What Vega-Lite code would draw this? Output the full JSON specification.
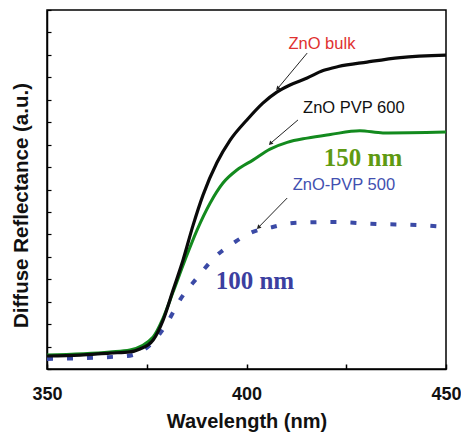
{
  "$schema": "https://vega.github.io/schema/vega-lite/v6.json",
  "autosize": "none",
  "width": 399,
  "height": 359,
  "padding": {"left": 47, "top": 10, "right": 15, "bottom": 65},
  "background": "white",
  "config": {
    "view": {"stroke": "black", "strokeWidth": 1.5},
    "axis": {"domainColor": "black", "tickColor": "black", "grid": false, "labelFont": "Liberation Sans", "titleFont": "Liberation Sans", "labelColor": "#111", "titleColor": "#111"}
  },
  "datasets": {
    "curves": [
      {"wl": 350.0, "r": 0.58, "s": "bulk"},
      {"wl": 358.3, "r": 0.62, "s": "bulk"},
      {"wl": 365.8, "r": 0.71, "s": "bulk"},
      {"wl": 370.8, "r": 0.76, "s": "bulk"},
      {"wl": 373.3, "r": 0.89, "s": "bulk"},
      {"wl": 376.6, "r": 1.29, "s": "bulk"},
      {"wl": 379.1, "r": 2.18, "s": "bulk"},
      {"wl": 381.6, "r": 3.52, "s": "bulk"},
      {"wl": 384.1, "r": 4.86, "s": "bulk"},
      {"wl": 386.6, "r": 6.4, "s": "bulk"},
      {"wl": 389.1, "r": 7.75, "s": "bulk"},
      {"wl": 392.6, "r": 9.2, "s": "bulk"},
      {"wl": 395.9, "r": 10.2, "s": "bulk"},
      {"wl": 400.1, "r": 11.1, "s": "bulk"},
      {"wl": 404.1, "r": 11.85, "s": "bulk"},
      {"wl": 407.6, "r": 12.34, "s": "bulk"},
      {"wl": 410.9, "r": 12.66, "s": "bulk"},
      {"wl": 415.2, "r": 12.97, "s": "bulk"},
      {"wl": 419.2, "r": 13.3, "s": "bulk"},
      {"wl": 423.0, "r": 13.48, "s": "bulk"},
      {"wl": 430.2, "r": 13.68, "s": "bulk"},
      {"wl": 438.5, "r": 13.88, "s": "bulk"},
      {"wl": 450.0, "r": 13.99, "s": "bulk"},
      {"wl": 350.0, "r": 0.62, "s": "pvp600"},
      {"wl": 365.8, "r": 0.76, "s": "pvp600"},
      {"wl": 370.8, "r": 0.85, "s": "pvp600"},
      {"wl": 376.6, "r": 1.43, "s": "pvp600"},
      {"wl": 379.1, "r": 2.27, "s": "pvp600"},
      {"wl": 381.6, "r": 3.43, "s": "pvp600"},
      {"wl": 384.6, "r": 4.86, "s": "pvp600"},
      {"wl": 387.6, "r": 6.19, "s": "pvp600"},
      {"wl": 390.9, "r": 7.4, "s": "pvp600"},
      {"wl": 394.1, "r": 8.29, "s": "pvp600"},
      {"wl": 397.6, "r": 8.87, "s": "pvp600"},
      {"wl": 401.6, "r": 9.31, "s": "pvp600"},
      {"wl": 405.9, "r": 9.8, "s": "pvp600"},
      {"wl": 410.2, "r": 10.1, "s": "pvp600"},
      {"wl": 415.2, "r": 10.29, "s": "pvp600"},
      {"wl": 421.0, "r": 10.45, "s": "pvp600"},
      {"wl": 428.4, "r": 10.62, "s": "pvp600"},
      {"wl": 434.2, "r": 10.52, "s": "pvp600"},
      {"wl": 450.0, "r": 10.56, "s": "pvp600"},
      {"wl": 350.0, "r": 0.45, "s": "pvp500"},
      {"wl": 370.0, "r": 0.58, "s": "pvp500"},
      {"wl": 375.8, "r": 1.07, "s": "pvp500"},
      {"wl": 380.1, "r": 2.05, "s": "pvp500"},
      {"wl": 383.3, "r": 3.07, "s": "pvp500"},
      {"wl": 387.6, "r": 4.06, "s": "pvp500"},
      {"wl": 392.1, "r": 4.99, "s": "pvp500"},
      {"wl": 397.1, "r": 5.66, "s": "pvp500"},
      {"wl": 401.6, "r": 6.11, "s": "pvp500"},
      {"wl": 406.6, "r": 6.33, "s": "pvp500"},
      {"wl": 411.7, "r": 6.51, "s": "pvp500"},
      {"wl": 421.7, "r": 6.55, "s": "pvp500"},
      {"wl": 432.7, "r": 6.46, "s": "pvp500"},
      {"wl": 442.7, "r": 6.42, "s": "pvp500"},
      {"wl": 450.0, "r": 6.33, "s": "pvp500"}
    ],
    "labels": [
      {"wl": 418.9, "r": 14.48, "t": "ZnO bulk", "k": "bulk"},
      {"wl": 426.9, "r": 11.63, "t": "ZnO PVP 600", "k": "pvp600"},
      {"wl": 424.4, "r": 8.2, "t": "ZnO-PVP 500", "k": "pvp500"}
    ],
    "sizes": [
      {"wl": 429.2, "r": 9.4, "t": "150 nm", "k": "s150"},
      {"wl": 402.1, "r": 3.92, "t": "100 nm", "k": "s100"}
    ],
    "arrows": [
      {"wl": 415.2, "r": 14.08, "wl2": 407.9, "r2": 12.52},
      {"wl": 412.9, "r": 11.1, "wl2": 406.1, "r2": 10.07},
      {"wl": 410.2, "r": 7.62, "wl2": 403.1, "r2": 6.33}
    ]
  },
  "layer": [
    {
      "data": {"name": "curves"},
      "transform": [{"filter": "datum.s == 'pvp500'"}],
      "mark": {"type": "line", "color": "#3b4aa6", "strokeWidth": 4, "strokeDash": [6, 14], "interpolate": "monotone"},
      "encoding": {
        "x": {"field": "wl", "type": "quantitative", "scale": {"domain": [350, 450], "nice": false},
          "axis": {"values": [350, 375, 400, 425, 450], "tickCount": 20, "labelExpr": "datum.value % 50 == 0 ? datum.label : ''", "labelFlush": false, "tickSize": -5, "tickWidth": 1.5, "domainWidth": 1.5, "labelFontSize": 18, "labelFontWeight": "bold", "labelPadding": 21, "title": "Wavelength (nm)", "titleFontSize": 20, "titleFontWeight": "bold", "titlePadding": 8}},
        "y": {"field": "r", "type": "quantitative", "scale": {"domain": [0, 16], "nice": false},
          "axis": {"values": [0,1,2,3,4,5,6,7,8,9,10,11,12,13,14,15,16], "tickCount": 30, "labels": false, "tickSize": -4, "tickWidth": 1.2, "domainWidth": 1.5, "title": "Diffuse Reflectance (a.u.)", "titleFontSize": 20.5, "titleFontWeight": "bold", "titleX": -26, "titleY": 195, "titleBaseline": "middle", "titleAngle": -90}}
      }
    },
    {
      "data": {"name": "curves"},
      "transform": [{"filter": "datum.s == 'pvp600'"}],
      "mark": {"type": "line", "color": "#138a1e", "strokeWidth": 3, "interpolate": "monotone"},
      "encoding": {"x": {"field": "wl", "type": "quantitative"}, "y": {"field": "r", "type": "quantitative"}}
    },
    {
      "data": {"name": "curves"},
      "transform": [{"filter": "datum.s == 'bulk'"}],
      "mark": {"type": "line", "color": "#0a0a0a", "strokeWidth": 3.2, "interpolate": "monotone"},
      "encoding": {"x": {"field": "wl", "type": "quantitative"}, "y": {"field": "r", "type": "quantitative"}}
    },
    {
      "data": {"name": "arrows"},
      "mark": {"type": "rule", "color": "#222", "strokeWidth": 1},
      "encoding": {"x": {"field": "wl", "type": "quantitative"}, "y": {"field": "r", "type": "quantitative"}, "x2": {"field": "wl2"}, "y2": {"field": "r2"}}
    },
    {
      "data": {"name": "arrows"},
      "mark": {"type": "point", "shape": "triangle", "angle": 225, "filled": true, "color": "#222", "size": 22, "opacity": 1},
      "encoding": {"x": {"field": "wl2", "type": "quantitative"}, "y": {"field": "r2", "type": "quantitative"}}
    },
    {
      "data": {"name": "labels"},
      "mark": {"type": "text", "font": "Liberation Sans", "fontSize": 16.5, "align": "center", "baseline": "middle"},
      "encoding": {
        "x": {"field": "wl", "type": "quantitative"}, "y": {"field": "r", "type": "quantitative"}, "text": {"field": "t"},
        "color": {"field": "k", "type": "nominal", "scale": {"domain": ["bulk", "pvp600", "pvp500"], "range": ["#e0312f", "#111111", "#4250b0"]}, "legend": null}
      }
    },
    {
      "data": {"name": "sizes"},
      "mark": {"type": "text", "font": "Liberation Serif", "fontWeight": "bold", "fontSize": 25, "align": "center", "baseline": "middle"},
      "encoding": {
        "x": {"field": "wl", "type": "quantitative"}, "y": {"field": "r", "type": "quantitative"}, "text": {"field": "t"},
        "color": {"field": "k", "type": "nominal", "scale": {"domain": ["s150", "s100"], "range": ["#5f9a12", "#3c3fa0"]}, "legend": null}
      }
    }
  ],
  "resolve": {"scale": {"color": "independent"}}
}
